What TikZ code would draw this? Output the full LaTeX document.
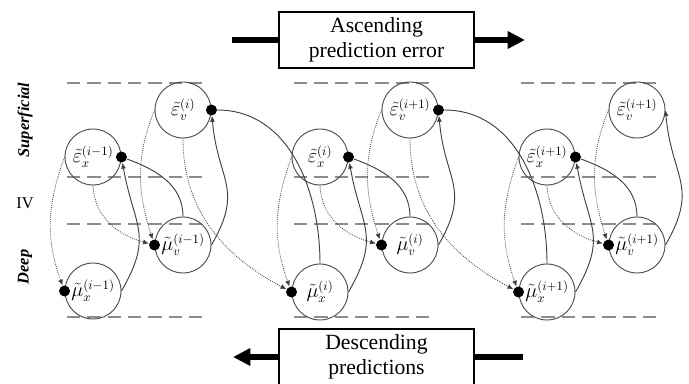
\documentclass[tikz,border=0pt]{standalone}
\usepackage{fontspec}
\setmainfont{Liberation Serif}
\usetikzlibrary{arrows.meta}

\begin{document}
\begin{tikzpicture}[x=0.3mm,y=-0.3mm,>={Latex[length=1.8mm,width=1.5mm]}]
            \tikzstyle{every node}+=[inner sep=0pt]
            \tikzstyle{cell}=[draw=black!70,line width=0.8pt,circle,minimum size=16.8mm,font=\fontsize{16}{18}\selectfont]
            \tikzstyle{blob}=[fill=black,circle,minimum size=3.3mm]
            \tikzstyle{solidlink}=[draw=black!75,line width=0.8pt]
            \tikzstyle{dotlink}=[draw=black!75,line width=0.7pt,dash pattern=on 0.7pt off 1pt]
            \tikzstyle{laminar}=[black!45,line width=1.6pt,dash pattern=on 4mm off 2.1mm]
            \tikzstyle{banner}=[draw=black,line width=2.2pt,fill=white,minimum width=58.5mm,minimum height=16.8mm,align=center,font=\fontsize{18.5}{21}\selectfont]
            \tikzstyle{bigline}=[black,line width=4.3pt]
            \tikzstyle{sidelabel}=[rotate=90,font=\fontsize{14}{16}\selectfont\bfseries\itshape]
            \useasboundingbox (0,0) rectangle (689,384);
            \draw [laminar] (67,83) -- (207,83);
            \draw [laminar] (67,177) -- (207,177);
            \draw [laminar] (67,224) -- (207,224);
            \draw [laminar] (67,317) -- (207,317);
            \draw [laminar] (294,83) -- (434,83);
            \draw [laminar] (294,177) -- (434,177);
            \draw [laminar] (294,224) -- (434,224);
            \draw [laminar] (294,317) -- (434,317);
            \draw [laminar] (521,83) -- (661,83);
            \draw [laminar] (521,177) -- (661,177);
            \draw [laminar] (521,224) -- (661,224);
            \draw [laminar] (521,317) -- (661,317);
            \node [sidelabel] (superficial) at (25,120) {Superficial};
            \node [font=\fontsize{14}{16}\selectfont] (iv) at (25,203) {IV};
            \node [sidelabel] (deep) at (25,267) {Deep};
            \node [cell] (ex1) at (93,157) {$\tilde{\varepsilon}_x^{(i-1)}$};
            \node [cell] (ev1) at (183,110) {$\tilde{\varepsilon}_v^{(i)}$};
            \node [cell] (mv1) at (183,245) {$\tilde{\mu}_v^{(i-1)}$};
            \node [cell] (mx1) at (93,291) {$\tilde{\mu}_x^{(i-1)}$};
            \node [cell] (ex2) at (320,157) {$\tilde{\varepsilon}_x^{(i)}$};
            \node [cell] (ev2) at (410,110) {$\tilde{\varepsilon}_v^{(i+1)}$};
            \node [cell] (mv2) at (410,245) {$\tilde{\mu}_v^{(i)}$};
            \node [cell] (mx2) at (320,292) {$\tilde{\mu}_x^{(i)}$};
            \node [cell] (ex3) at (547,157) {$\tilde{\varepsilon}_x^{(i+1)}$};
            \node [cell] (ev3) at (637,110) {$\tilde{\varepsilon}_v^{(i+1)}$};
            \node [cell] (mv3) at (637,245) {$\tilde{\mu}_v^{(i+1)}$};
            \node [cell] (mx3) at (547,292) {$\tilde{\mu}_x^{(i+1)}$};
            \node [blob] (ex1dot) at (ex1.east) {};
            \node [blob] (ev1dot) at (ev1.east) {};
            \node [blob] (mv1dot) at (mv1.west) {};
            \node [blob] (mx1dot) at (mx1.west) {};
            \node [blob] (ex2dot) at (ex2.east) {};
            \node [blob] (ev2dot) at (ev2.east) {};
            \node [blob] (mv2dot) at (mv2.west) {};
            \node [blob] (mx2dot) at (mx2.west) {};
            \node [blob] (ex3dot) at (ex3.east) {};
            \node [blob] (mv3dot) at (mv3.west) {};
            \node [blob] (mx3dot) at (mx3.west) {};
            \draw [solidlink,->] (mx1.east) to [out=60,in=-80,looseness=1.3] (ex1dot);
            \draw [solidlink] (mv1.north) to [out=90,in=-20] (ex1dot);
            \draw [solidlink,->] (mv1.east) to [out=60,in=-85,looseness=1.3] (ev1dot);
            \draw [dotlink,->] (ex1.south) to [out=-88,in=165] (mv1dot);
            \draw [dotlink,->] (ex1.west) to [out=-110,in=110] (mx1dot);
            \draw [dotlink,->] (ev1.west) to [out=-112,in=108] (mv1dot);
            \draw [dotlink,->] (ev1.south) to [out=-90,in=152] (mx2dot);
            \draw [solidlink] (mx2.north) to [out=90,in=0] (ev1dot);
            \draw [solidlink,->] (mx2.east) to [out=60,in=-80,looseness=1.3] (ex2dot);
            \draw [solidlink] (mv2.north) to [out=90,in=-20] (ex2dot);
            \draw [solidlink,->] (mv2.east) to [out=60,in=-85,looseness=1.3] (ev2dot);
            \draw [dotlink,->] (ex2.south) to [out=-88,in=165] (mv2dot);
            \draw [dotlink,->] (ex2.west) to [out=-110,in=110] (mx2dot);
            \draw [dotlink,->] (ev2.west) to [out=-112,in=108] (mv2dot);
            \draw [dotlink,->] (ev2.south) to [out=-90,in=152] (mx3dot);
            \draw [solidlink] (mx3.north) to [out=90,in=0] (ev2dot);
            \draw [solidlink,->] (mx3.east) to [out=60,in=-80,looseness=1.3] (ex3dot);
            \draw [solidlink] (mv3.north) to [out=90,in=-20] (ex3dot);
            \draw [solidlink,->] (mv3.east) to [out=60,in=-85,looseness=1.3] (ev3.east);
            \draw [dotlink,->] (ex3.south) to [out=-88,in=165] (mv3dot);
            \draw [dotlink,->] (ex3.west) to [out=-110,in=110] (mx3dot);
            \draw [dotlink,->] (ev3.west) to [out=-112,in=108] (mv3dot);
            \node [banner] (ascend) at (376.5,40) {Ascending\\prediction error};
            \coordinate (ascendin) at (232,40);
            \coordinate (ascendout) at (525,40);
            \draw [bigline] (ascendin) -- (ascend);
            \draw [bigline,-{Triangle[length=5.2mm,width=5mm]}] (ascend) -- (ascendout);
            \node [banner] (descend) at (376.5,357) {Descending\\predictions};
            \coordinate (descendin) at (523,357);
            \coordinate (descendout) at (233,357);
            \draw [bigline] (descendin) -- (descend);
            \draw [bigline,-{Triangle[length=5.2mm,width=5mm]}] (descend) -- (descendout);
        \end{tikzpicture}
\end{document}
